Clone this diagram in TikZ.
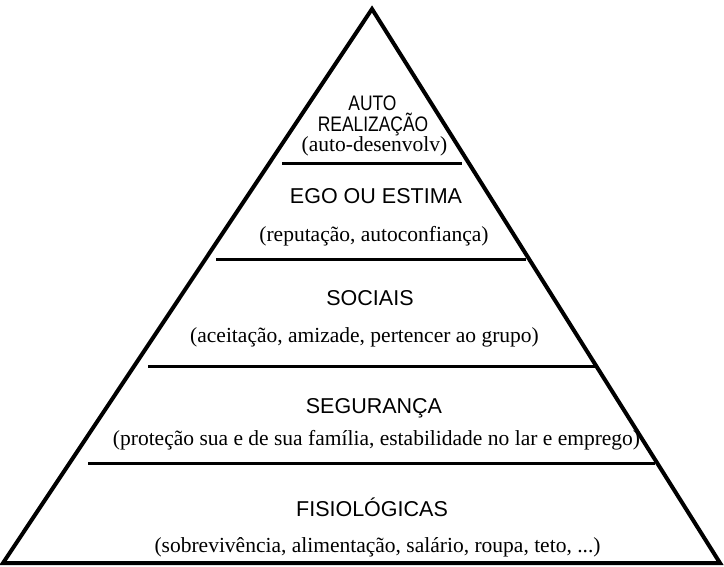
\documentclass[tikz,border=0pt]{standalone}
\usepackage{fontspec}
\setmainfont{Liberation Serif}
\newfontfamily\topfont[FakeStretch=0.83]{Liberation Sans}
\newfontfamily\titlefont{Liberation Sans}
\tikzset{
  side/.style={line width=4pt, line join=miter},
  sep/.style={line width=3pt},
  toptitle/.style={font=\topfont\fontsize{21}{23}\selectfont, inner sep=0pt, anchor=base},
  title/.style={font=\titlefont\fontsize{21.5}{23}\selectfont, inner sep=0pt, anchor=base},
  sub/.style={font=\rmfamily\fontsize{21.5}{23}\selectfont, inner sep=0pt, anchor=base}
}
\begin{document}
\begin{tikzpicture}[x=1pt,y=-1pt]
\useasboundingbox (0,0) rectangle (724,566);
\fill[white] (0,0) rectangle (724,566);
\coordinate (apex) at (372,9);
\coordinate (bl) at (3,563);
\coordinate (br) at (720,563);
\draw[side] (bl) -- (apex) -- (br) -- cycle;
\draw[sep] (282,163) -- (462,163);
\draw[sep] (216,259) -- (526,259);
\draw[sep] (148,366) -- (596,366);
\draw[sep] (88,463) -- (655,463);
\node[toptitle] (t1a) at (372.5,110.5) {AUTO};
\node[toptitle] (t1b) at (373,131) {REALIZAÇÃO};
\node[sub] (s1) at (374.5,151) {(auto-desenvolv)};
\node[title] (t2) at (376,203) {EGO OU ESTIMA};
\node[sub] (s2) at (374,241) {(reputação, autoconfiança)};
\node[title] (t3) at (370,305) {SOCIAIS};
\node[sub] (s3) at (364.5,342.5) {(aceitação, amizade, pertencer ao grupo)};
\node[title] (t4) at (374,413) {SEGURANÇA};
\node[sub] (s4) at (376.5,445.5) {(proteção sua e de sua família, estabilidade no lar e emprego)};
\node[title] (t5) at (372,516) {FISIOLÓGICAS};
\node[sub] (s5) at (377.5,552.5) {(sobrevivência, alimentação, salário, roupa, teto, ...)};
\end{tikzpicture}
\end{document}
